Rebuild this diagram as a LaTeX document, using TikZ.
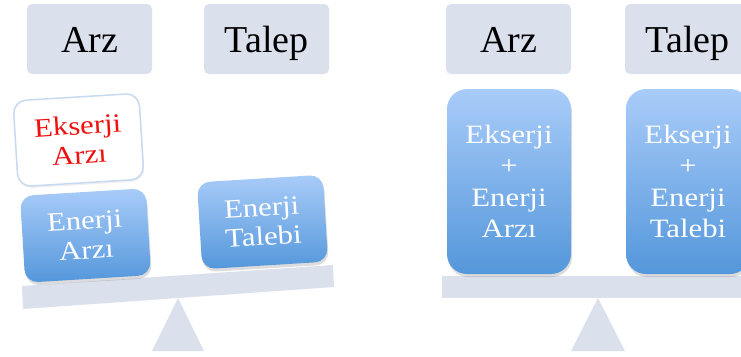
\documentclass[tikz,border=0pt]{standalone}
\usepackage{fontspec}
\setmainfont{Liberation Serif}
\newfontfamily\boxfont[FakeStretch=1.16]{Liberation Serif}
\usetikzlibrary{shadows}
\definecolor{panel}{HTML}{DBE0ED}
\definecolor{blueTop}{HTML}{A9CCF9}
\definecolor{blueBot}{HTML}{5497DB}
\definecolor{rimBlue}{HTML}{C6DAF1}
\definecolor{exRed}{HTML}{F01010}
\begin{document}
\begin{tikzpicture}[x=1pt,y=-1pt,
  header/.style={fill=panel, rounded corners=5pt, minimum width=125pt,
    minimum height=70pt, inner sep=0pt,
    font=\fontsize{38}{40}\selectfont, text height=26pt, text depth=0pt},
  softshadow/.style={drop shadow={opacity=0.28, shadow xshift=1pt, shadow yshift=-3pt}},
  bluebox/.style={top color=blueTop, bottom color=blueBot, text=white,
    align=center, inner sep=0pt, softshadow},
  smallbox/.style={bluebox, rounded corners=13pt, minimum width=126pt,
    minimum height=87pt, rotate=3.5, font=\boxfont\fontsize{26.5}{29.5}\selectfont},
  tallbox/.style={bluebox, rounded corners=20pt, minimum width=124pt,
    minimum height=185pt, font=\boxfont\fontsize{26.5}{31.5}\selectfont},
  whitebox/.style={fill=white, draw=rimBlue, line width=1.5pt,
    rounded corners=13pt, minimum width=126pt, minimum height=86pt,
    rotate=3.5, align=center, inner sep=0pt, text=exRed,
    font=\boxfont\fontsize{26.5}{29.5}\selectfont,
    drop shadow={opacity=0.12, shadow xshift=1pt, shadow yshift=-2pt}},
  beam/.style={fill=panel},
  pivot/.style={fill=panel}
]
\path[use as bounding box] (0,0) rectangle (741,356);
\clip (0,0) rectangle (741,356);

% ---- unbalanced scale: energy view ----
\node[header] (arzL) at (89.5,39) {Arz};
\node[header] (talepL) at (266.5,39) {Talep};

\fill[beam] (22,286) -- (333,265) -- (334,287) -- (23,309) -- cycle;
\fill[pivot] (178,298) -- (204,351) -- (152,351) -- cycle;

\node[whitebox] (ekserjiArz) at (78.5,140) {Ekserji\\Arzı};
\node[smallbox] (enerjiArz) at (85.5,235.5) {Enerji\\Arzı};
\node[smallbox] (enerjiTalep) at (262.5,222) {Enerji\\Talebi};

% ---- balanced scale: exergy + energy view ----
\node[header] (arzR) at (508.5,39) {Arz};
\node[header] (talepR) at (687.5,39) {Talep};

\fill[beam] (442,276) rectangle (760,298);
\fill[pivot] (598,298) -- (625,351) -- (571,351) -- cycle;

\node[tallbox] (toplamArz) at (509,181.5) {Ekserji\\+\\Enerji\\Arzı};
\node[tallbox] (toplamTalep) at (688,181.5) {Ekserji\\+\\Enerji\\Talebi};
\end{tikzpicture}
\end{document}
